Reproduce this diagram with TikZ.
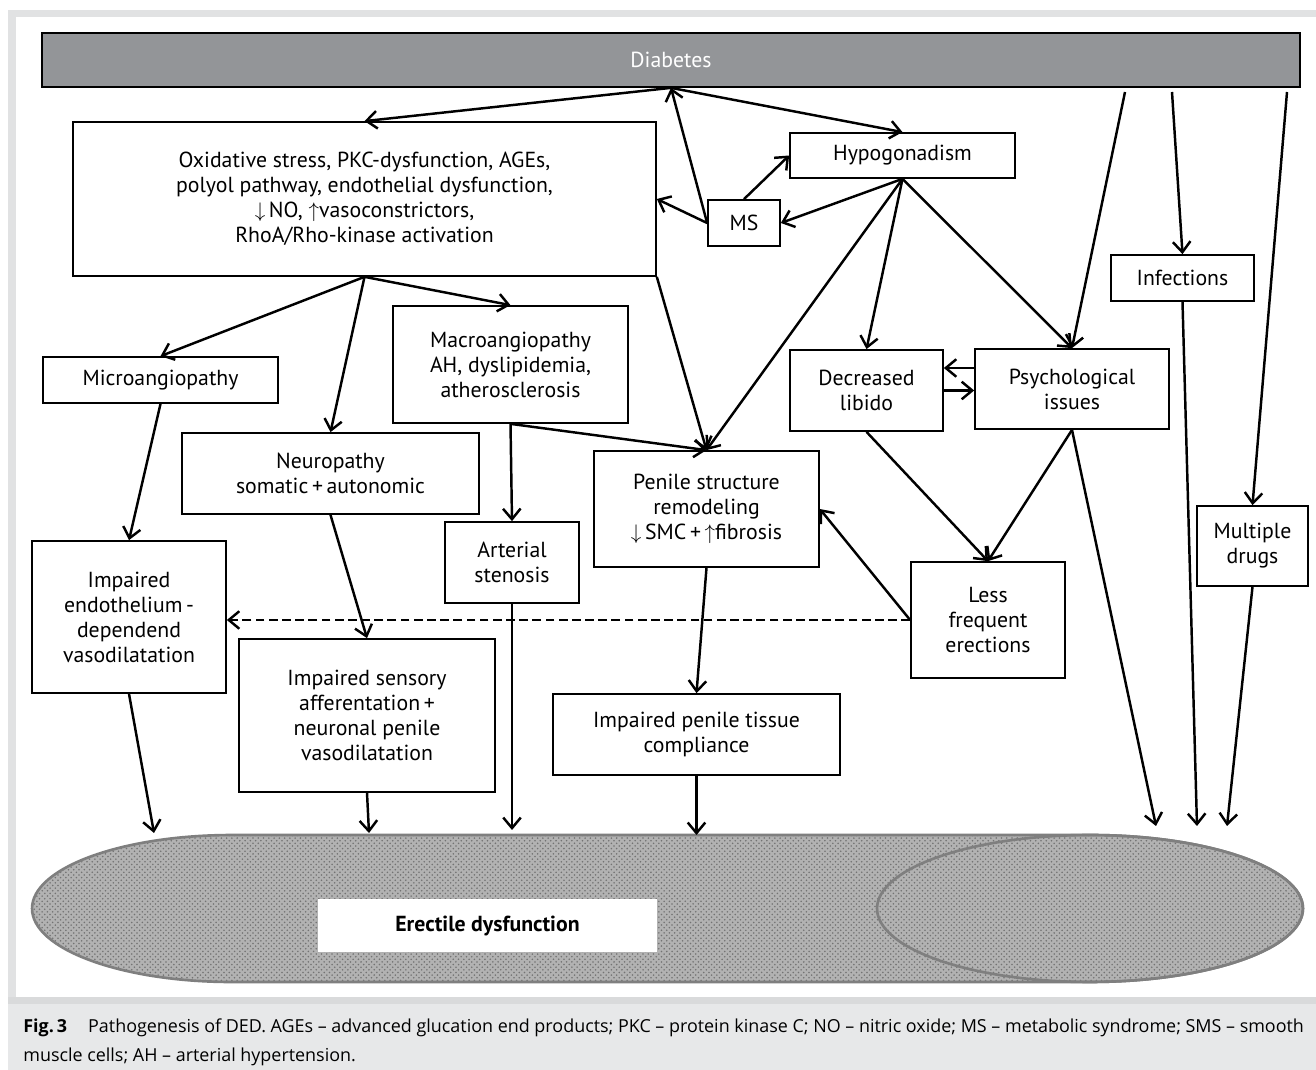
\documentclass[tikz,border=0pt]{standalone}
\usepackage{fontspec}
\setmainfont{PT Sans}
\newfontfamily\capfont{Open Sans}
\usetikzlibrary{patterns, arrows.meta}
\definecolor{diagray}{HTML}{939598}
\definecolor{framegray}{HTML}{E1E2E3}
\definecolor{capgray}{HTML}{E7E8E9}
\definecolor{capline}{HTML}{D9DADB}
\definecolor{edgray}{HTML}{7F7F7F}
\tikzset{
  box/.style={draw, line width=1pt, align=center, inner sep=1pt, font=\fontsize{12.4}{14.2}\selectfont},
  arr/.style={-{Straight Barb[length=6pt, width=10pt]}, line width=1.4pt},
  dasharr/.style={arr, dash pattern=on 5pt off 2.5pt},
}

\begin{document}
\begin{tikzpicture}[x=0.02cm, y=-0.02cm]
      \useasboundingbox (0,0) rectangle (1316,1070);
      \fill[framegray] (8,10) rectangle (1316,997);
      \fill[white] (16,17) rectangle (1316,997);
      \fill[capgray] (8,997) rectangle (1316,1070);
      \fill[capline] (8,997) rectangle (1316,1004);

      % erectile dysfunction
      \draw[edgray, line width=1.5pt, preaction={fill=black!30}, pattern=crosshatch dots, pattern color=black!55]
        (232,835) -- (1090,835) arc[start angle=90, end angle=-90, x radius=4.26cm, y radius=1.47cm]
        -- (232,982) arc[start angle=270, end angle=90, x radius=4cm, y radius=1.47cm] -- cycle;
      \draw[edgray, line width=1.5pt] (1090,908.5) ellipse [x radius=4.26cm, y radius=1.47cm];
      \node[fill=white, minimum width=6.78cm, minimum height=1.06cm, font=\fontsize{12.4}{14.2}\selectfont\bfseries] (ed) at (487.5,925.5) {Erectile dysfunction};

      \node[box, fill=diagray, text=white, minimum width=25.16cm, minimum height=1.08cm] (dia) at (671,60) {Diabetes};
      \node[box, minimum width=11.66cm, minimum height=3.08cm] (ox) at (364.5,199) {Oxidative stress, PKC-dysfunction, AGEs,\\ polyol pathway, endothelial dysfunction,\\ $\downarrow$\,NO, $\uparrow$vasoconstrictors,\\ RhoA/Rho-kinase activation};
      \node[box, minimum width=4.5cm, minimum height=0.9cm] (hypo) at (902.5,155.5) {Hypogonadism};
      \node[box, minimum width=1.44cm, minimum height=0.92cm] (ms) at (744,223) {MS};
      \node[box, minimum width=2.86cm, minimum height=0.92cm] (inf) at (1182.5,278) {Infections};
      \node[box, minimum width=4.7cm, minimum height=0.92cm] (micro) at (160.5,380) {Microangiopathy};
      \node[box, minimum width=4.7cm, minimum height=2.34cm] (macro) at (510.5,364.5) {Macroangiopathy\\ AH, dyslipidemia,\\ atherosclerosis};
      \node[box, minimum width=5.94cm, minimum height=1.62cm] (neuro) at (330.5,473.5) {Neuropathy\\ somatic\,+\,autonomic};
      \node[box, minimum width=3.06cm, minimum height=1.62cm] (lib) at (866.5,390.5) {Decreased\\ libido};
      \node[box, minimum width=3.88cm, minimum height=1.6cm] (psy) at (1072,389) {Psychological\\ issues};
      \node[box, minimum width=4.5cm, minimum height=2.32cm] (pen) at (706.5,509) {Penile structure\\ remodeling\\ $\downarrow$\,SMC\,+\,$\uparrow$fibrosis};
      \node[box, minimum width=2.68cm, minimum height=1.62cm] (art) at (512,562.5) {Arterial\\ stenosis};
      \node[box, minimum width=2.22cm, minimum height=1.6cm] (drugs) at (1252.5,546) {Multiple\\ drugs};
      \node[box, minimum width=3.88cm, minimum height=3.04cm] (endo) at (129,617) {Impaired\\ endothelium\,-\\ dependend\\ vasodilatation};
      \node[box, minimum width=3.08cm, minimum height=2.32cm] (less) at (988,620) {Less\\ frequent\\ erections};
      \node[box, minimum width=5.12cm, minimum height=3.06cm] (sens) at (367,715.5) {Impaired sensory\\ afferentation\,+\\ neuronal penile\\ vasodilatation};
      \node[box, minimum width=5.74cm, minimum height=1.62cm] (comp) at (696.5,734.5) {Impaired penile tissue\\ compliance};

      \coordinate (t1) at (1125,92);
      \coordinate (t2) at (1172,92);
      \coordinate (t3) at (1287,92);
      \coordinate (e1) at (154,833);
      \coordinate (e2) at (369,833);
      \coordinate (e3) at (512,830);
      \coordinate (e4) at (696.5,835);
      \coordinate (e5) at (1156,826);
      \coordinate (e6) at (1197,826);
      \coordinate (e7) at (1227,826);

      \draw[arr] (dia.south) -- (ox.north);
      \draw[arr] (dia.south) -- (hypo.north);
      \draw[arr] (ms.west) -- (dia.south);
      \draw[arr] (ms.west) -- (ox.east);
      \draw[arr] (ms.north) -- (hypo.west);
      \draw[arr] (hypo.south) -- (ms.east);
      \draw[arr] (hypo.south) -- (pen.north);
      \draw[arr] (hypo.south) -- (lib.north);
      \draw[arr] (hypo.south) -- (psy.north);
      \draw[arr] (t1) -- (psy.north);
      \draw[arr] (t2) -- (inf.north);
      \draw[arr] (t3) -- (drugs.north);

      \draw[arr] (ox.south) -- (micro.north);
      \draw[arr] (ox.south) -- (neuro.north);
      \draw[arr] (ox.south) -- (macro.north);
      \draw[arr] (ox.south east) -- (pen.north);
      \draw[arr] (macro.south) -- (pen.north);
      \draw[arr] (macro.south) -- (art.north);
      \draw[arr] (micro.south) -- (endo.north);
      \draw[arr] (neuro.south) -- (sens.north);
      \draw[arr] (pen.south) -- (comp.north);

      \draw[arr] ([yshift=0.42cm]psy.west) -- ([yshift=0.42cm]psy.west -| lib.east);
      \draw[arr] (lib.east) -- (lib.east -| psy.west);
      \draw[arr] (lib.south) -- (less.north);
      \draw[arr] (psy.south) -- (less.north);
      \draw[arr] (less.west) -- (pen.east);
      \draw[dasharr] (less.west) -- (less.west -| endo.east);

      \draw[arr] (endo.south) -- (e1);
      \draw[arr] (sens.south) -- (e2);
      \draw[arr] (art.south) -- (e3);
      \draw[arr] (comp.south) -- (e4);
      \draw[arr] (psy.south) -- (e5);
      \draw[arr] (inf.south) -- (e6);
      \draw[arr] (drugs.south) -- (e7);

      \node[anchor=west, inner sep=0, font=\capfont\fontsize{10.2}{12}\selectfont] (cap1) at (23,1028) {\textbf{Fig.\,3}\hspace{12pt}Pathogenesis of DED. AGEs – advanced glucation end products; PKC – protein kinase C; NO – nitric oxide; MS – metabolic syndrome; SMS – smooth};
      \node[anchor=west, inner sep=0, font=\capfont\fontsize{10.2}{12}\selectfont] (cap2) at (23,1057) {muscle cells; AH – arterial hypertension.};
\end{tikzpicture}
\end{document}
